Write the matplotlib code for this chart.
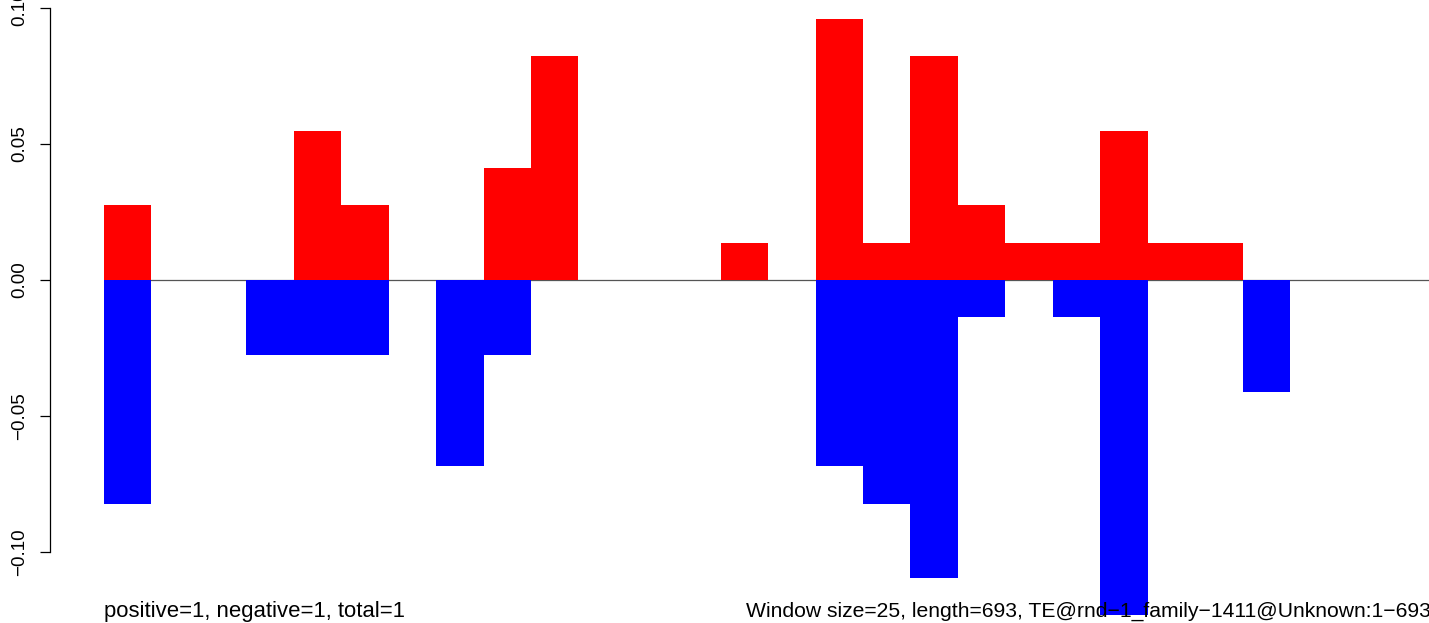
import matplotlib
matplotlib.use("Agg")
import matplotlib.pyplot as plt
import numpy as np

plt.rcParams['font.family'] = ['Liberation Sans', 'DejaVu Sans']

# ---- data ----
window_size = 25
seq_length = 693
positive = [0.0274, 0, 0, 0, 0.0548, 0.0274, 0, 0, 0.0411, 0.0822,
            0, 0, 0, 0.0137, 0, 0.0959, 0.0137, 0.0822, 0.0274, 0.0137,
            0.0137, 0.0548, 0.0137, 0.0137, 0, 0, 0, 0]
negative = [0.0822, 0, 0, 0.0274, 0.0274, 0.0274, 0, 0.0685, 0.0274, 0,
            0, 0, 0, 0, 0, 0.0685, 0.0822, 0.1096, 0.0137, 0,
            0.0137, 0.1233, 0, 0, 0.0411, 0, 0, 0]
yticks = [-0.10, -0.05, 0.00, 0.05, 0.10]
yticklabels = ["\u22120.10", "\u22120.05", "0.00", "0.05", "0.10"]
left_text = "positive=1, negative=1, total=1"
right_text = "Window size=25, length=693, TE@rnd\u22121_family\u22121411@Unknown:1\u2212693"

# ---- figure ----
W, H = 1429, 623
fig = plt.figure(figsize=(W / 100, H / 100), dpi=100)
ax = fig.add_axes([50 / W, 0, (W - 50) / W, 1])

upx = window_size / 47.44  # data units per pixel
ax.set_xlim(-54 * upx, (W - 104) * upx)
ax.set_ylim(-(H - 280) / 2720, 280 / 2720)

starts = np.arange(len(positive)) * window_size
ax.hlines(0, 0, (W - 104) * upx, color='#555555', linewidth=0.9, zorder=1)
ax.bar(starts, positive, width=window_size, align='edge', color='#ff0000',
       linewidth=0, zorder=2)
ax.bar(starts, [-v for v in negative], width=window_size, align='edge',
       color='#0000ff', linewidth=0, zorder=2)

for s in ['top', 'right', 'bottom']:
    ax.spines[s].set_visible(False)
ax.spines['left'].set_bounds(-0.1, 0.1)
ax.spines['left'].set_linewidth(0.9)
ax.set_xticks([])
ax.set_yticks(yticks)
ax.set_yticklabels(yticklabels, rotation=90, va='center', fontsize=13.5)
ax.tick_params(axis='y', length=7.2, width=0.9, pad=8.5)
ax.patch.set_alpha(0)

fig.text(104 / W, 1 - 617 / H, left_text, fontsize=15.9, va='baseline', ha='left')
fig.text(1431 / W, 1 - 617 / H, right_text, fontsize=15.2, va='baseline', ha='right',
         zorder=5)

fig.savefig("out.png", dpi=100)
